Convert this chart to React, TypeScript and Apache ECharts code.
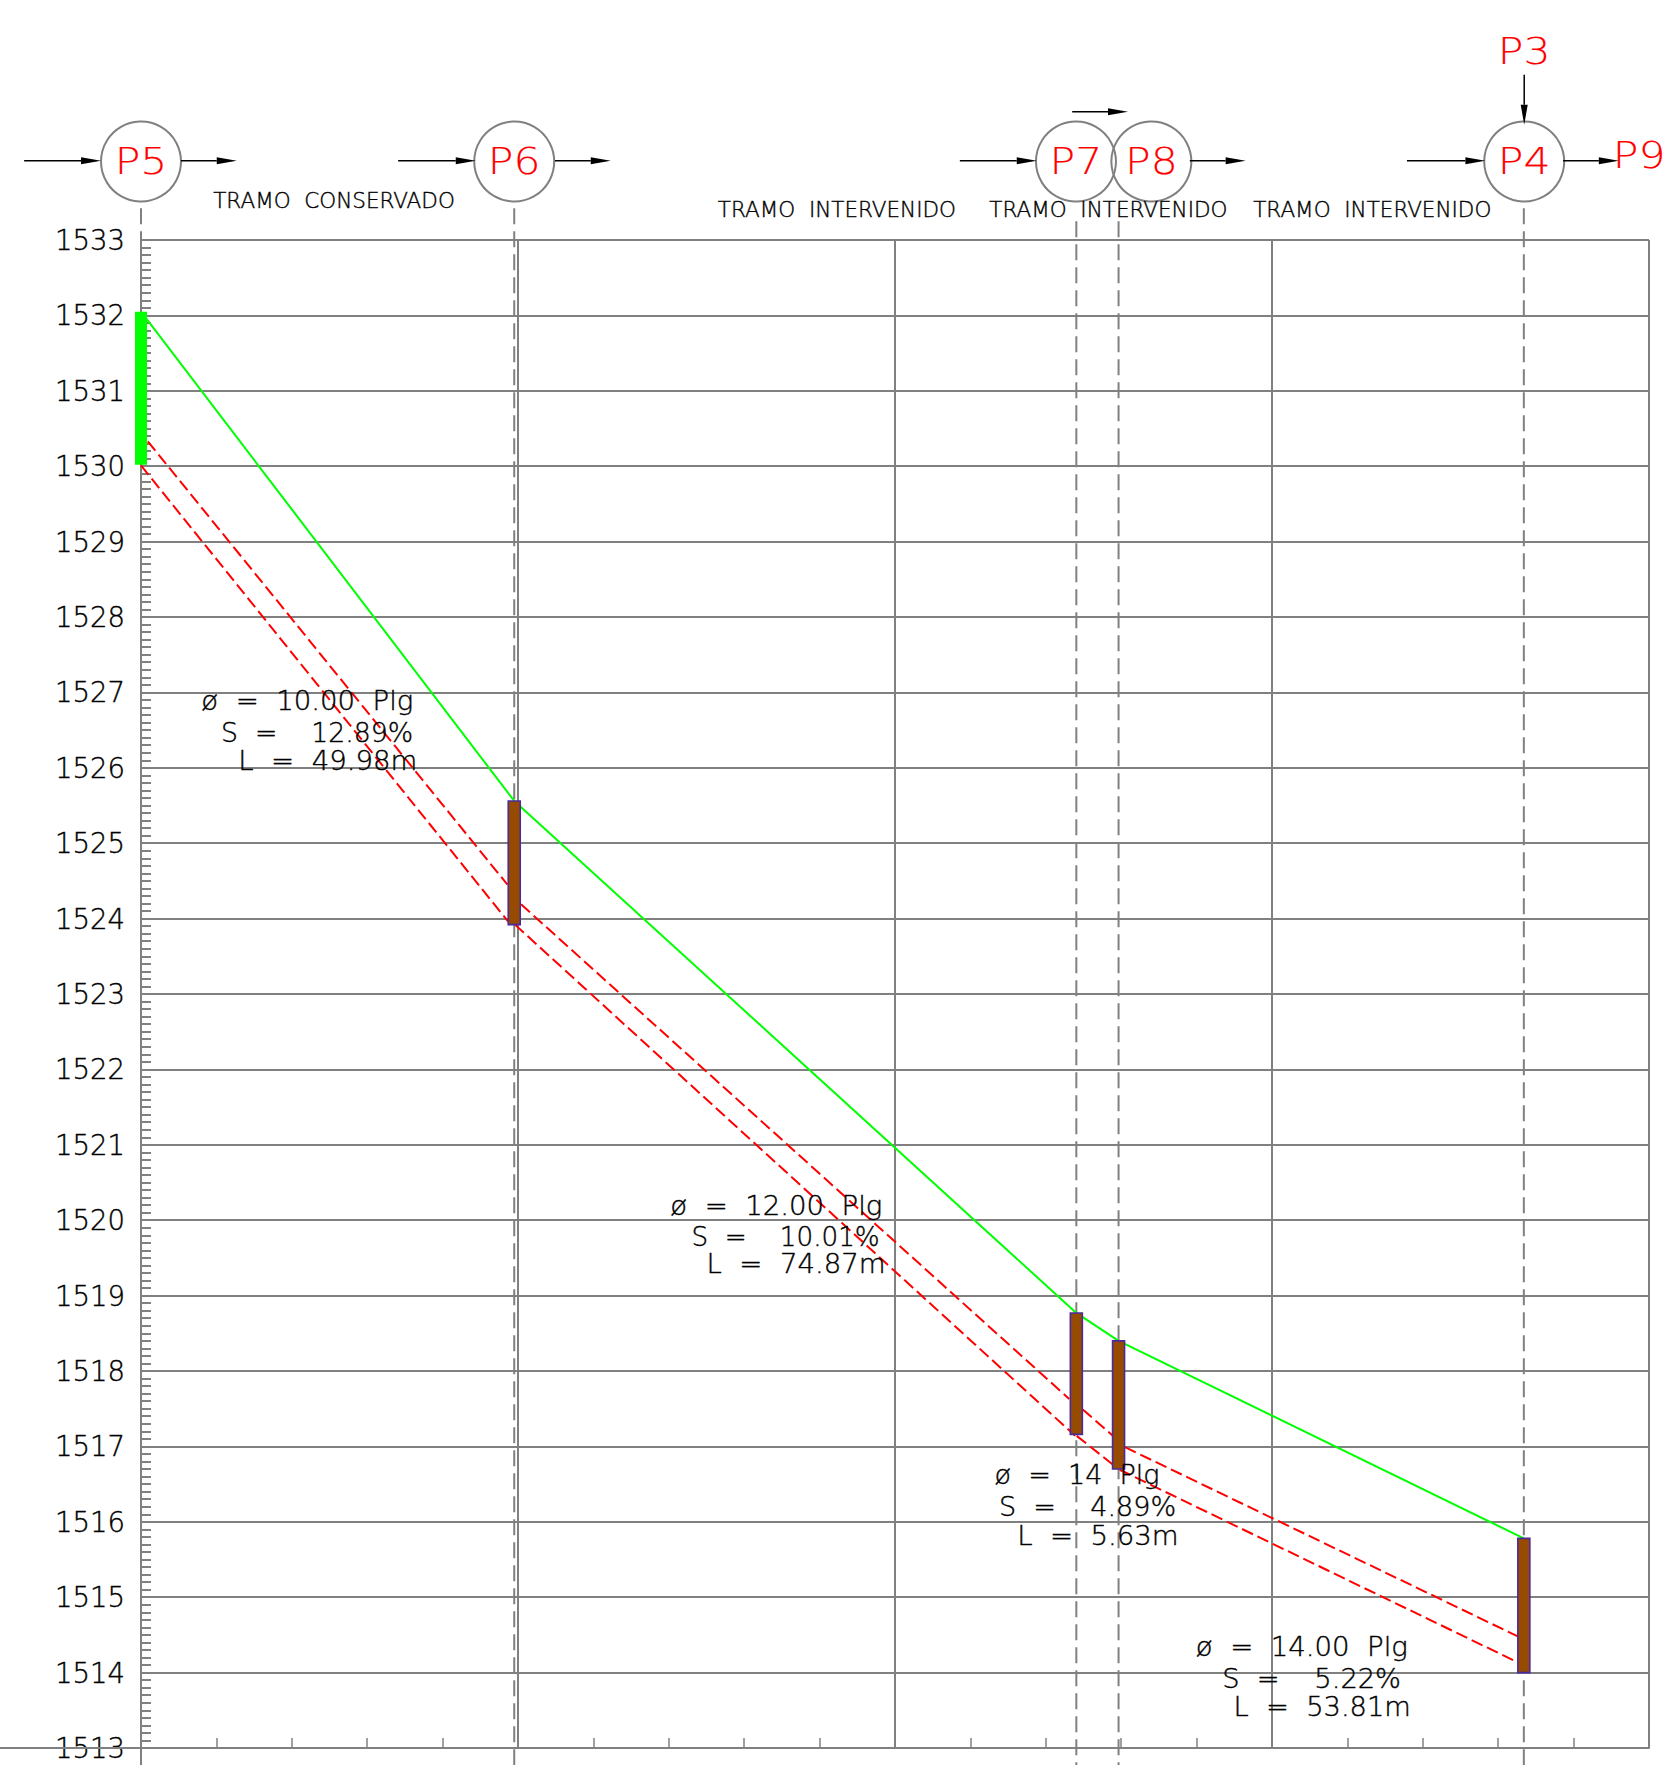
import React, { useEffect, useRef } from "react";
import * as echarts from "echarts";

// ---- axes
const xMin = 0, xMax = 200, xStep = 50;
const yMin = 1513, yMax = 1533;
const axisBottom = 1512.77; // where the drawing's verticals run off the page
const leftStub = -18.7;     // the base line runs on to the left of the axis

// ---- stations
const stationNames = ["P5", "P6", "P7", "P8", "P4"];
const stationX = [0, 49.5, 124.05, 129.65, 183.4];
const bubbleX = [0, 49.5, 124.0, 134.0, 183.45];
const bubbleY = 1534.04;
const dashTop = [1533.42, 1533.42, 1533.25, 1533.25, 1533.42];

// ---- ground line
const groundX = [0, 49.5, 124.05, 129.65, 183.4];
const groundY = [1532.05, 1525.56, 1518.77, 1518.4, 1515.78];

// ---- manholes [x, bottom, top]
const wellTop = [1532.05, 1525.56, 1518.77, 1518.4, 1515.78];
const wellBottom = [1530.02, 1523.92, 1517.16, 1516.7, 1514.0];

// ---- pipe crown and invert segments
const crown1 = [[0.9, 1530.33], [48.6, 1524.45]];
const invert1 = [[0, 1530.01], [48.7, 1523.96]];
const crown2 = [[50.4, 1524.19], [123.1, 1517.63]];
const invert2 = [[49.6, 1523.92], [123.9, 1517.14]];
const crown3 = [[124.9, 1517.49], [128.9, 1517.14]];
const invert3 = [[124.1, 1517.14], [129.0, 1516.75]];
const crown4 = [[130.5, 1516.99], [182.6, 1514.48]];
const invert4 = [[129.8, 1516.69], [182.3, 1514.15]];
const pipes = [crown1, invert1, crown2, invert2, crown3, invert3, crown4, invert4];

// ---- section captions
const sectionTexts = ["TRAMO  CONSERVADO", "TRAMO  INTERVENIDO", "TRAMO  INTERVENIDO", "TRAMO  INTERVENIDO"];
const sectionX = [25.6, 92.3, 128.3, 163.3];
const sectionY = [1533.52, 1533.41, 1533.41, 1533.41];

// ---- pipe notes
const noteTexts = [
  "ø  =  10.00  Plg", "S  =    12.89%", "L  =  49.98m",
  "ø  =  12.00  Plg", "S  =    10.01%", "L  =  74.87m",
  "ø  =  14  Plg", "S  =    4.89%", "L  =  5.63m",
  "ø  =  14.00  Plg", "S  =    5.22%", "L  =  53.81m",
];
const noteX = [8.0, 10.6, 12.9, 70.2, 73.0, 75.0, 113.2, 113.8, 116.2, 139.9, 143.4, 144.9];
const noteY = [1526.89, 1526.47, 1526.09, 1520.2, 1519.79, 1519.42, 1516.63, 1516.2, 1515.82, 1514.34, 1513.92, 1513.55];
const noteStretch = [1.02, 0.99, 1.02, 1.02, 0.97, 1.02, 1.0, 1.0, 1.02, 1.02, 1.01, 1.01];

// ---- outlying node labels
const extraNames = ["P3", "P9"];
const extraX = [183.45, 195.2];
const extraY = [1535.5, 1534.13];

// ---- flow arrows [x1, y1, x2, y2]
const arrows = [
  [-15.5, 1534.05, -5.3, 1534.05], [5.3, 1534.05, 12.7, 1534.05],
  [34.1, 1534.05, 44.4, 1534.05], [54.9, 1534.05, 62.3, 1534.05],
  [108.6, 1534.05, 118.8, 1534.05], [139.1, 1534.05, 146.5, 1534.05],
  [167.9, 1534.05, 178.3, 1534.05], [188.6, 1534.05, 196, 1534.05],
  [123.5, 1534.7, 130.9, 1534.7], [183.45, 1535.19, 183.45, 1534.53],
];

const GRAY = "#808080";
const RED = "#ff0000";
const FONT = '"DejaVu Sans"';
const WEIGHT = 200;

const custom = (data: any[], z: number, item: (api: any, i: number) => any) => ({
  type: "custom",
  coordinateSystem: "cartesian2d",
  silent: true,
  z,
  clip: false,
  data,
  renderItem: (params: any, api: any) => item(api, params.dataIndex),
});

const txt = (api: any, x: number, y: number, text: string, size: number, fill: string, align: string, scaleX = 1, edge = 0.4) => {
  const p = api.coord([x, y]);
  return {
    type: "text",
    x: p[0],
    y: p[1],
    scaleX,
    style: { text, fontSize: size, fontFamily: FONT, fontWeight: WEIGHT, fill, stroke: fill, lineWidth: edge, align, verticalAlign: "middle" },
  };
};

function buildOption() {
  return {
    animation: false,
    backgroundColor: "#fff",
    grid: { left: 141, top: 240, width: 1508, height: 1508 },
    xAxis: {
      type: "value", min: xMin, max: xMax, interval: xStep,
      axisLine: { show: true, onZero: false, lineStyle: { color: GRAY, width: 2 } },
      axisTick: { show: true, inside: true, length: 10, lineStyle: { color: GRAY, width: 1.5 } },
      minorTick: { show: true, splitNumber: 5, length: 10, lineStyle: { color: GRAY, width: 1.5 } },
      axisLabel: { show: false },
      splitLine: { show: true, lineStyle: { color: GRAY, width: 2 } },
    },
    yAxis: {
      type: "value", min: yMin, max: yMax, interval: 1,
      axisLine: { show: true, onZero: false, lineStyle: { color: GRAY, width: 2 } },
      axisTick: { show: true, inside: true, length: 10, lineStyle: { color: GRAY, width: 2 } },
      minorTick: { show: true, splitNumber: 10, length: 10, lineStyle: { color: GRAY, width: 2 } },
      axisLabel: {
        show: true, margin: 16, color: "#000", fontSize: 27.5, fontFamily: FONT, fontWeight: WEIGHT,
        textBorderColor: "#000", textBorderWidth: 0.4, padding: [2, 0, 0, 0],
        formatter: (v: number) => String(v),
      },
      splitLine: { show: true, lineStyle: { color: GRAY, width: 2 } },
    },
    series: [
      // station dashed verticals
      custom(stationX.map((x) => [x, yMax]), 3, (api, i) => {
        const a = api.coord([stationX[i], dashTop[i]]);
        const b = api.coord([stationX[i], axisBottom]);
        return { type: "line", shape: { x1: a[0], y1: a[1], x2: b[0], y2: b[1] }, style: { stroke: GRAY, lineWidth: 2, lineDash: [16, 7] } };
      }),
      // base line and axis run-outs
      custom([[leftStub, yMin]], 3, (api) => {
        const a = api.coord([leftStub, yMin]);
        const o = api.coord([xMin, yMin]);
        const b = api.coord([xMin, axisBottom]);
        return {
          type: "group",
          children: [
            { type: "line", shape: { x1: a[0], y1: a[1], x2: o[0], y2: o[1] }, style: { stroke: GRAY, lineWidth: 2 } },
            { type: "line", shape: { x1: o[0], y1: o[1], x2: b[0], y2: b[1] }, style: { stroke: GRAY, lineWidth: 2 } },
          ],
        };
      }),
      // pipes
      ...pipes.map((seg) => ({
        type: "line", data: seg, symbol: "none", silent: true, z: 4, clip: false,
        lineStyle: { color: RED, width: 2, type: [12, 5] },
      })),
      // ground
      {
        type: "line", data: groundX.map((x, i) => [x, groundY[i]]), symbol: "none", silent: true, z: 4, clip: false,
        lineStyle: { color: "#00ff00", width: 2 },
      },
      // manholes
      custom(stationX.map((x, i) => [x, wellTop[i], wellBottom[i]]), 5, (api, i) => {
        const t = api.coord([stationX[i], wellTop[i]]);
        const b = api.coord([stationX[i], wellBottom[i]]);
        const first = i === 0;
        return {
          type: "rect",
          shape: { x: t[0] - 6, y: t[1], width: 12, height: b[1] - t[1] },
          style: first ? { fill: "#00ff00" } : { fill: "#964b00", stroke: "#4b2a9e", lineWidth: 1.6 },
        };
      }),
      // bubbles
      custom(bubbleX.map((x) => [x, bubbleY]), 6, (api, i) => {
        const c = api.coord([bubbleX[i], bubbleY]);
        return {
          type: "group",
          children: [
            { type: "circle", shape: { cx: c[0], cy: c[1], r: 40 }, style: { fill: "none", stroke: GRAY, lineWidth: 2 } },
            txt(api, bubbleX[i], bubbleY, stationNames[i], 38, RED, "center", 1.12, 0.15),
          ],
        };
      }),
      custom(extraX.map((x, i) => [x, extraY[i]]), 6, (api, i) =>
        txt(api, extraX[i], extraY[i], extraNames[i], 38, RED, i === 0 ? "center" : "left", 1.12, 0.15)
      ),
      // arrows
      custom(arrows.map((a) => [a[0], a[1]]), 6, (api, i) => {
        const [x1, y1, x2, y2] = arrows[i];
        const a = api.coord([x1, y1]);
        const b = api.coord([x2, y2]);
        const len = Math.hypot(b[0] - a[0], b[1] - a[1]);
        const ux = (b[0] - a[0]) / len, uy = (b[1] - a[1]) / len;
        const hx = b[0] - ux * 20, hy = b[1] - uy * 20;
        return {
          type: "group",
          children: [
            { type: "line", shape: { x1: a[0], y1: a[1], x2: hx, y2: hy }, style: { stroke: "#000", lineWidth: 1.5 } },
            { type: "polygon", shape: { points: [[b[0], b[1]], [hx - uy * 3.5, hy + ux * 3.5], [hx + uy * 3.5, hy - ux * 3.5]] }, style: { fill: "#000" } },
          ],
        };
      }),
      // captions
      custom(sectionX.map((x, i) => [x, sectionY[i]]), 7, (api, i) =>
        txt(api, sectionX[i], sectionY[i], sectionTexts[i], 21.5, "#000", "center")
      ),
      // notes
      custom(noteX.map((x, i) => [x, noteY[i]]), 7, (api, i) =>
        txt(api, noteX[i], noteY[i], noteTexts[i], 27, "#000", "left", noteStretch[i])
      ),
    ],
  };
}

export default function App() {
  const ref = useRef<HTMLDivElement>(null);
  useEffect(() => {
    const chart = echarts.init(ref.current!, undefined, { renderer: "svg" });
    chart.setOption(buildOption() as any);
    return () => chart.dispose();
  }, []);
  return <div ref={ref} style={{ position: "absolute", left: 0, top: 0, width: 1665, height: 1765 }} />;
}
